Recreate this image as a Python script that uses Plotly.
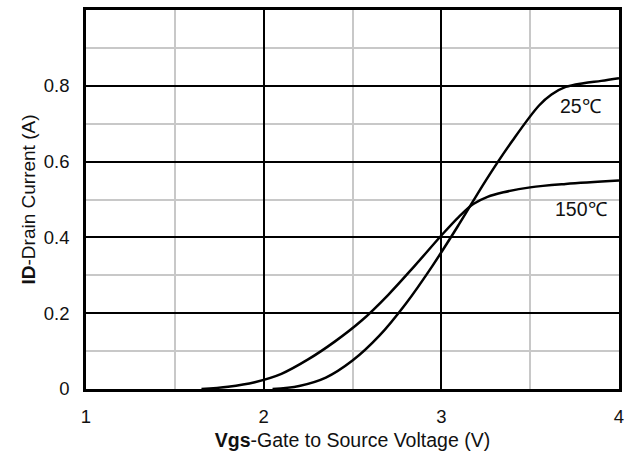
import plotly.graph_objects as go

vgs_25 = [2.05, 2.2, 2.35, 2.5, 2.65, 2.8, 2.95, 3.1, 3.25, 3.4, 3.55, 3.62, 3.7, 3.8, 3.9, 4.0]
id_25 = [0.0, 0.008, 0.03, 0.075, 0.14, 0.225, 0.325, 0.435, 0.55, 0.655, 0.748, 0.777, 0.797, 0.807, 0.813, 0.82]

vgs_150 = [1.65, 1.8, 1.95, 2.1, 2.25, 2.4, 2.55, 2.7, 2.85, 3.0, 3.1, 3.18, 3.26, 3.35, 3.5, 3.7, 4.0]
id_150 = [0.0, 0.006, 0.018, 0.04, 0.078, 0.125, 0.18, 0.248, 0.325, 0.405, 0.455, 0.488, 0.507, 0.519, 0.532, 0.541, 0.55]

x_ticks = [1, 2, 3, 4]
y_ticks = [0, 0.2, 0.4, 0.6, 0.8, 1]
y_ticktext = ["0", "0.2", "0.4", "0.6", "0.8", "1"]

labels = [("25℃", 3.786, 0.748), ("150℃", 3.786, 0.475)]

FONT = "Liberation Sans, Arial, sans-serif"

fig = go.Figure()
for xs, ys in [(vgs_25, id_25), (vgs_150, id_150)]:
    fig.add_trace(go.Scatter(x=xs, y=ys, mode="lines",
                             line=dict(color="black", width=2.5, shape="spline", smoothing=1.0),
                             showlegend=False, hoverinfo="skip"))

for txt, x, y in labels:
    fig.add_annotation(x=x, y=y, text=txt, showarrow=False,
                       font=dict(family=FONT, size=19.5, color="#111"))

fig.update_layout(
    width=637, height=457,
    margin=dict(l=86, r=18, t=10, b=68),
    paper_bgcolor="white", plot_bgcolor="white",
    font=dict(family=FONT, size=18.5, color="#111"),
    xaxis=dict(range=[1, 4], tickvals=x_ticks, showgrid=True, gridcolor="black", gridwidth=1.5,
               showline=True, linecolor="black", linewidth=2.5, mirror=True,
               ticks="", zeroline=False, automargin=False, ticklabelstandoff=9,
               minor=dict(dtick=0.5, tick0=1, showgrid=True, gridcolor="#c8c8c8", gridwidth=1.5),
               title=dict(text="<b>Vgs</b>-Gate to Source Voltage (V)", font=dict(size=19.5), standoff=8)),
    yaxis=dict(range=[0, 1], tickvals=y_ticks, ticktext=y_ticktext, showgrid=True, gridcolor="black", gridwidth=1.5,
               showline=True, linecolor="black", linewidth=2.5, mirror=True,
               ticks="", zeroline=False, automargin=False, ticklabelstandoff=10,
               minor=dict(dtick=0.1, tick0=0, showgrid=True, gridcolor="#c8c8c8", gridwidth=1.5),
               title=dict(text="<b>ID</b>-Drain Current (A)", font=dict(size=19), standoff=4)),
)

fig.write_html("out.html", config={"displayModeBar": False},
               post_script="document.body.style.margin='0';document.body.style.padding='0';")
